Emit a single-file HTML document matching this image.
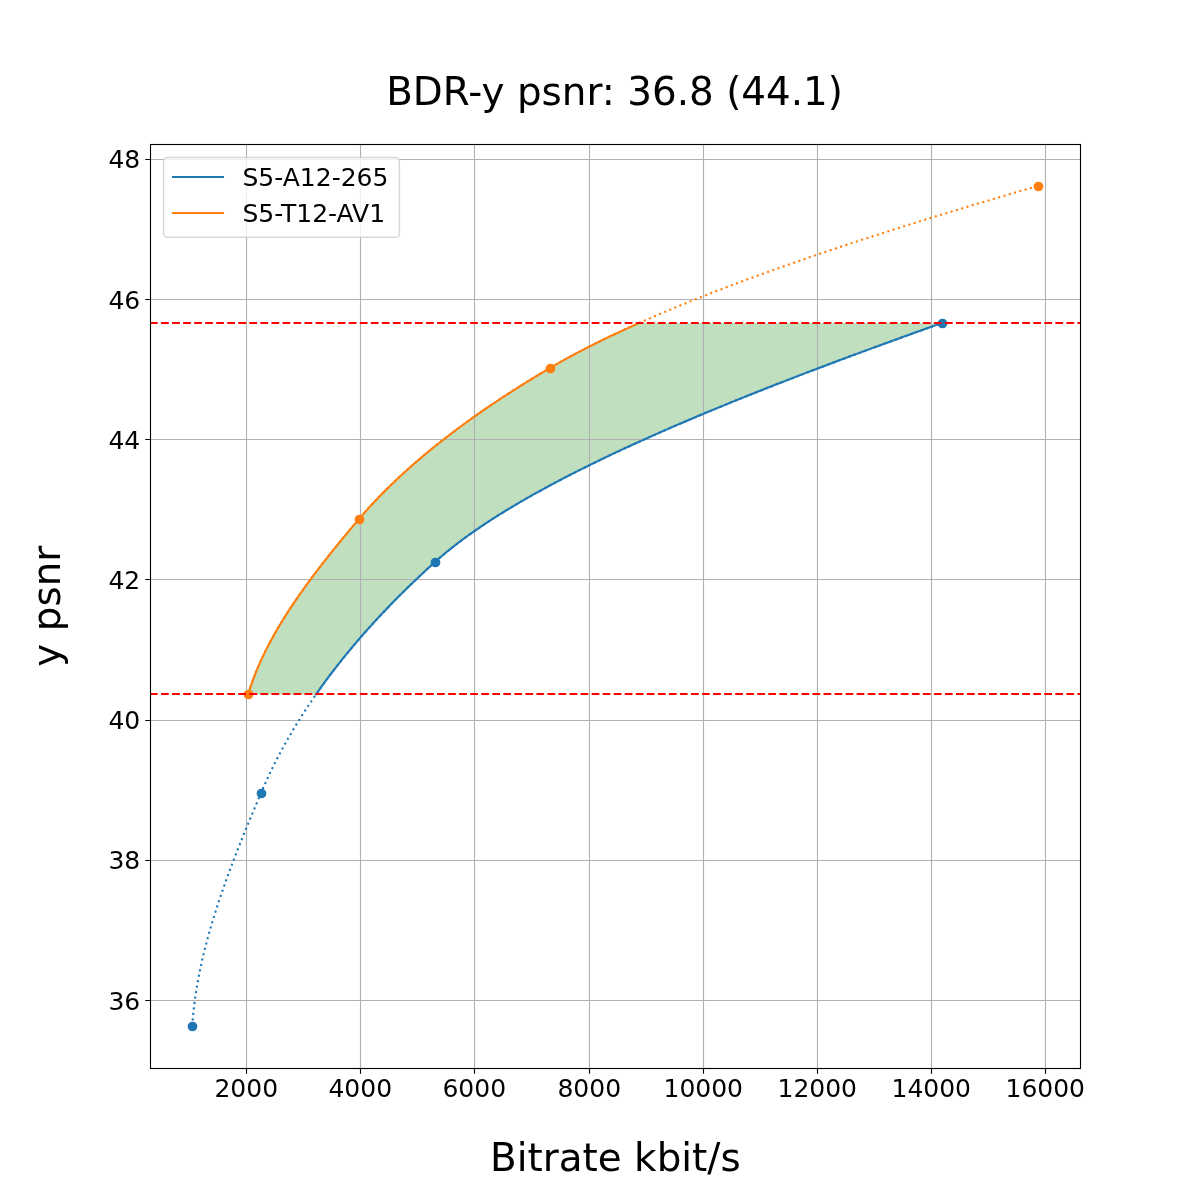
<!DOCTYPE html>
<html lang="en"><head><meta charset="utf-8"><title>BDR-y psnr</title>
<style>html,body{margin:0;padding:0;background:#fff}body{width:1200px;height:1200px;overflow:hidden}svg{display:block}</style>
</head><body>
<svg width="1200" height="1200" viewBox="0 0 1200 1200" font-family="'DejaVu Sans', 'Liberation Sans', sans-serif" fill="#000">
<rect x="0" y="0" width="1200" height="1200" fill="#fff"/>
<path d="M316.04 694.40 L317.34 692.53 L318.66 690.67 L319.98 688.80 L321.32 686.93 L322.67 685.07 L324.02 683.20 L325.39 681.34 L326.77 679.47 L328.16 677.60 L329.56 675.74 L330.96 673.87 L332.38 672.00 L333.81 670.14 L335.25 668.27 L336.70 666.41 L338.16 664.54 L339.63 662.67 L341.11 660.81 L342.61 658.94 L344.11 657.07 L345.62 655.21 L347.14 653.34 L348.68 651.47 L350.22 649.61 L351.78 647.74 L353.34 645.88 L354.92 644.01 L356.51 642.14 L358.10 640.28 L359.71 638.41 L361.33 636.54 L362.96 634.68 L364.60 632.81 L366.26 630.94 L367.92 629.08 L369.59 627.21 L371.27 625.35 L372.97 623.48 L374.68 621.61 L376.39 619.75 L378.12 617.88 L379.86 616.01 L381.61 614.15 L383.37 612.28 L385.14 610.42 L386.92 608.55 L388.72 606.68 L390.52 604.82 L392.34 602.95 L394.16 601.08 L396.00 599.22 L397.85 597.35 L399.71 595.48 L401.58 593.62 L403.46 591.75 L405.36 589.89 L407.26 588.02 L409.18 586.15 L411.11 584.29 L413.04 582.42 L414.99 580.55 L416.96 578.69 L418.93 576.82 L420.91 574.95 L422.91 573.09 L424.92 571.22 L426.93 569.36 L428.96 567.49 L431.00 565.62 L433.06 563.76 L435.12 561.89 L437.21 560.02 L439.34 558.16 L441.51 556.29 L443.72 554.43 L445.96 552.56 L448.24 550.69 L450.56 548.83 L452.92 546.96 L455.31 545.09 L457.74 543.23 L460.20 541.36 L462.71 539.49 L465.25 537.63 L467.82 535.76 L470.43 533.90 L473.08 532.03 L475.76 530.16 L478.48 528.30 L481.23 526.43 L484.01 524.56 L486.83 522.70 L489.69 520.83 L492.58 518.96 L495.50 517.10 L498.45 515.23 L501.44 513.37 L504.46 511.50 L507.52 509.63 L510.61 507.77 L513.73 505.90 L516.88 504.03 L520.06 502.17 L523.28 500.30 L526.53 498.44 L529.81 496.57 L533.12 494.70 L536.46 492.84 L539.83 490.97 L543.23 489.10 L546.67 487.24 L550.13 485.37 L553.62 483.50 L557.15 481.64 L560.70 479.77 L564.28 477.91 L567.89 476.04 L571.53 474.17 L575.20 472.31 L578.89 470.44 L582.62 468.57 L586.37 466.71 L590.15 464.84 L593.95 462.97 L597.79 461.11 L601.65 459.24 L605.54 457.38 L609.45 455.51 L613.40 453.64 L617.36 451.78 L621.36 449.91 L625.38 448.04 L629.42 446.18 L633.49 444.31 L637.59 442.45 L641.71 440.58 L645.85 438.71 L650.02 436.85 L654.21 434.98 L658.43 433.11 L662.67 431.25 L666.94 429.38 L671.23 427.51 L675.54 425.65 L679.87 423.78 L684.23 421.92 L688.61 420.05 L693.01 418.18 L697.43 416.32 L701.88 414.45 L706.35 412.58 L710.84 410.72 L715.35 408.85 L719.88 406.98 L724.43 405.12 L729.00 403.25 L733.59 401.39 L738.21 399.52 L742.84 397.65 L747.49 395.79 L752.17 393.92 L756.86 392.05 L761.57 390.19 L766.30 388.32 L771.04 386.46 L775.81 384.59 L780.59 382.72 L785.40 380.86 L790.22 378.99 L795.05 377.12 L799.91 375.26 L804.78 373.39 L809.67 371.52 L814.58 369.66 L819.50 367.79 L824.44 365.93 L829.39 364.06 L834.36 362.19 L839.35 360.33 L844.35 358.46 L849.36 356.59 L854.39 354.73 L859.44 352.86 L864.50 350.99 L869.58 349.13 L874.66 347.26 L879.77 345.40 L884.88 343.53 L890.01 341.66 L895.16 339.80 L900.31 337.93 L905.48 336.06 L910.66 334.20 L915.85 332.33 L921.06 330.47 L926.28 328.60 L931.51 326.73 L936.75 324.87 L942.00 323.00 L639.12 323.00 L634.95 324.87 L630.81 326.73 L626.71 328.60 L622.66 330.47 L618.64 332.33 L614.66 334.20 L610.73 336.06 L606.84 337.93 L602.98 339.80 L599.17 341.66 L595.41 343.53 L591.68 345.40 L588.00 347.26 L584.36 349.13 L580.76 350.99 L577.20 352.86 L573.69 354.73 L570.23 356.59 L566.80 358.46 L563.42 360.33 L560.09 362.19 L556.80 364.06 L553.55 365.93 L550.35 367.79 L547.19 369.66 L544.05 371.52 L540.92 373.39 L537.82 375.26 L534.74 377.12 L531.68 378.99 L528.64 380.86 L525.63 382.72 L522.63 384.59 L519.65 386.46 L516.69 388.32 L513.76 390.19 L510.84 392.05 L507.95 393.92 L505.08 395.79 L502.22 397.65 L499.39 399.52 L496.58 401.39 L493.78 403.25 L491.01 405.12 L488.26 406.98 L485.53 408.85 L482.82 410.72 L480.13 412.58 L477.46 414.45 L474.80 416.32 L472.17 418.18 L469.56 420.05 L466.97 421.92 L464.40 423.78 L461.85 425.65 L459.32 427.51 L456.81 429.38 L454.32 431.25 L451.85 433.11 L449.40 434.98 L446.96 436.85 L444.55 438.71 L442.16 440.58 L439.79 442.45 L437.44 444.31 L435.10 446.18 L432.79 448.04 L430.49 449.91 L428.22 451.78 L425.96 453.64 L423.73 455.51 L421.51 457.38 L419.31 459.24 L417.14 461.11 L414.98 462.97 L412.84 464.84 L410.72 466.71 L408.62 468.57 L406.54 470.44 L404.47 472.31 L402.43 474.17 L400.41 476.04 L398.40 477.91 L396.42 479.77 L394.45 481.64 L392.50 483.50 L390.57 485.37 L388.66 487.24 L386.77 489.10 L384.89 490.97 L383.04 492.84 L381.20 494.70 L379.39 496.57 L377.59 498.44 L375.81 500.30 L374.05 502.17 L372.31 504.03 L370.58 505.90 L368.88 507.77 L367.19 509.63 L365.52 511.50 L363.87 513.37 L362.24 515.23 L360.63 517.10 L359.03 518.96 L357.45 520.83 L355.87 522.70 L354.29 524.56 L352.72 526.43 L351.15 528.30 L349.59 530.16 L348.03 532.03 L346.48 533.90 L344.93 535.76 L343.39 537.63 L341.85 539.49 L340.32 541.36 L338.79 543.23 L337.27 545.09 L335.76 546.96 L334.25 548.83 L332.75 550.69 L331.25 552.56 L329.76 554.43 L328.28 556.29 L326.80 558.16 L325.34 560.02 L323.87 561.89 L322.42 563.76 L320.97 565.62 L319.54 567.49 L318.10 569.36 L316.68 571.22 L315.27 573.09 L313.86 574.95 L312.46 576.82 L311.07 578.69 L309.69 580.55 L308.32 582.42 L306.96 584.29 L305.61 586.15 L304.26 588.02 L302.93 589.89 L301.60 591.75 L300.29 593.62 L298.98 595.48 L297.69 597.35 L296.40 599.22 L295.13 601.08 L293.87 602.95 L292.61 604.82 L291.37 606.68 L290.14 608.55 L288.92 610.42 L287.71 612.28 L286.52 614.15 L285.33 616.01 L284.16 617.88 L283.00 619.75 L281.85 621.61 L280.71 623.48 L279.59 625.35 L278.48 627.21 L277.38 629.08 L276.30 630.94 L275.22 632.81 L274.16 634.68 L273.12 636.54 L272.09 638.41 L271.07 640.28 L270.06 642.14 L269.07 644.01 L268.10 645.88 L267.14 647.74 L266.19 649.61 L265.25 651.47 L264.34 653.34 L263.43 655.21 L262.55 657.07 L261.67 658.94 L260.82 660.81 L259.97 662.67 L259.15 664.54 L258.34 666.41 L257.54 668.27 L256.77 670.14 L256.00 672.00 L255.26 673.87 L254.53 675.74 L253.82 677.60 L253.13 679.47 L252.45 681.34 L251.79 683.20 L251.15 685.07 L250.52 686.93 L249.91 688.80 L249.32 690.67 L248.75 692.53 L248.20 694.40 Z" fill="#008000" fill-opacity="0.25" stroke="none"/>
<path d="M246.5 144 V1068 M360.5 144 V1068 M474.5 144 V1068 M589.5 144 V1068 M703.5 144 V1068 M817.5 144 V1068 M931.5 144 V1068 M1045.5 144 V1068 M150 1000.5 H1080 M150 860.5 H1080 M150 720.5 H1080 M150 579.5 H1080 M150 439.5 H1080 M150 299.5 H1080 M150 159.5 H1080" stroke="#b0b0b0" stroke-width="1.111" fill="none"/>
<path d="M246.5 1068.5 v5.20 M360.5 1068.5 v5.20 M474.5 1068.5 v5.20 M589.5 1068.5 v5.20 M703.5 1068.5 v5.20 M817.5 1068.5 v5.20 M931.5 1068.5 v5.20 M1045.5 1068.5 v5.20 M150.5 1000.5 h-5.20 M150.5 860.5 h-5.20 M150.5 720.5 h-5.20 M150.5 579.5 h-5.20 M150.5 439.5 h-5.20 M150.5 299.5 h-5.20 M150.5 159.5 h-5.20" stroke="#000" stroke-width="1.111" fill="none"/>
<clipPath id="ax"><rect x="150" y="144" width="930" height="924"/></clipPath>
<g clip-path="url(#ax)" fill="none" stroke-width="2.083">
<path d="M192.27 1026.00 L192.39 1024.24 L192.52 1022.48 L192.65 1020.71 L192.80 1018.95 L192.95 1017.19 L193.11 1015.43 L193.28 1013.67 L193.46 1011.90 L193.65 1010.14 L193.84 1008.38 L194.05 1006.62 L194.26 1004.86 L194.48 1003.10 L194.71 1001.33 L194.94 999.57 L195.19 997.81 L195.44 996.05 L195.70 994.29 L195.96 992.52 L196.24 990.76 L196.52 989.00 L196.81 987.24 L197.11 985.48 L197.41 983.71 L197.72 981.95 L198.04 980.19 L198.37 978.43 L198.70 976.67 L199.04 974.90 L199.39 973.14 L199.75 971.38 L200.11 969.62 L200.48 967.86 L200.85 966.10 L201.24 964.33 L201.63 962.57 L202.02 960.81 L202.42 959.05 L202.83 957.29 L203.25 955.52 L203.67 953.76 L204.10 952.00 L204.53 950.24 L204.97 948.48 L205.42 946.71 L205.87 944.95 L206.33 943.19 L206.79 941.43 L207.26 939.67 L207.74 937.90 L208.22 936.14 L208.71 934.38 L209.20 932.62 L209.70 930.86 L210.20 929.10 L210.71 927.33 L211.23 925.57 L211.75 923.81 L212.28 922.05 L212.81 920.29 L213.34 918.52 L213.89 916.76 L214.43 915.00 L214.98 913.24 L215.54 911.48 L216.10 909.71 L216.67 907.95 L217.24 906.19 L217.81 904.43 L218.39 902.67 L218.98 900.90 L219.57 899.14 L220.16 897.38 L220.76 895.62 L221.36 893.86 L221.97 892.10 L222.58 890.33 L223.19 888.57 L223.81 886.81 L224.43 885.05 L225.06 883.29 L225.69 881.52 L226.32 879.76 L226.96 878.00 L227.60 876.24 L228.25 874.48 L228.90 872.71 L229.55 870.95 L230.21 869.19 L230.87 867.43 L231.53 865.67 L232.20 863.90 L232.86 862.14 L233.54 860.38 L234.21 858.62 L234.89 856.86 L235.57 855.10 L236.26 853.33 L236.94 851.57 L237.63 849.81 L238.33 848.05 L239.02 846.29 L239.72 844.52 L240.42 842.76 L241.12 841.00 L241.83 839.24 L242.54 837.48 L243.25 835.71 L243.96 833.95 L244.67 832.19 L245.39 830.43 L246.11 828.67 L246.83 826.90 L247.55 825.14 L248.28 823.38 L249.00 821.62 L249.73 819.86 L250.46 818.10 L251.19 816.33 L251.92 814.57 L252.66 812.81 L253.39 811.05 L254.13 809.29 L254.87 807.52 L255.61 805.76 L256.35 804.00 L257.09 802.24 L257.84 800.48 L258.58 798.71 L259.33 796.95 L260.07 795.19 L260.82 793.43 L261.57 791.67 L262.33 789.90 L263.09 788.14 L263.87 786.38 L264.65 784.62 L265.44 782.86 L266.24 781.10 L267.04 779.33 L267.86 777.57 L268.68 775.81 L269.51 774.05 L270.35 772.29 L271.20 770.52 L272.06 768.76 L272.92 767.00 L273.80 765.24 L274.68 763.48 L275.57 761.71 L276.47 759.95 L277.37 758.19 L278.29 756.43 L279.21 754.67 L280.15 752.90 L281.09 751.14 L282.04 749.38 L282.99 747.62 L283.96 745.86 L284.94 744.10 L285.92 742.33 L286.91 740.57 L287.91 738.81 L288.92 737.05 L289.94 735.29 L290.97 733.52 L292.00 731.76 L293.05 730.00 L294.10 728.24 L295.16 726.48 L296.23 724.71 L297.31 722.95 L298.40 721.19 L299.50 719.43 L300.60 717.67 L301.72 715.90 L302.84 714.14 L303.97 712.38 L305.11 710.62 L306.26 708.86 L307.42 707.10 L308.59 705.33 L309.77 703.57 L310.95 701.81 L312.15 700.05 L313.35 698.29 L314.56 696.52 L315.78 694.76 L317.02 693.00 L318.26 691.24 L319.50 689.48 L320.76 687.71 L322.03 685.95 L323.30 684.19 L324.59 682.43 L325.88 680.67 L327.19 678.90 L328.50 677.14 L329.82 675.38 L331.15 673.62 L332.49 671.86 L333.84 670.10 L335.20 668.33 L336.57 666.57 L337.95 664.81 L339.34 663.05 L340.73 661.29 L342.14 659.52 L343.55 657.76 L344.98 656.00 L346.41 654.24 L347.85 652.48 L349.31 650.71 L350.77 648.95 L352.24 647.19 L353.72 645.43 L355.21 643.67 L356.71 641.90 L358.22 640.14 L359.74 638.38 L361.27 636.62 L362.81 634.86 L364.35 633.10 L365.91 631.33 L367.48 629.57 L369.05 627.81 L370.64 626.05 L372.24 624.29 L373.84 622.52 L375.46 620.76 L377.08 619.00 L378.72 617.24 L380.36 615.48 L382.02 613.71 L383.68 611.95 L385.35 610.19 L387.04 608.43 L388.73 606.67 L390.43 604.90 L392.15 603.14 L393.87 601.38 L395.60 599.62 L397.35 597.86 L399.10 596.10 L400.86 594.33 L402.64 592.57 L404.42 590.81 L406.21 589.05 L408.01 587.29 L409.83 585.52 L411.65 583.76 L413.48 582.00 L415.33 580.24 L417.18 578.48 L419.04 576.71 L420.92 574.95 L422.80 573.19 L424.69 571.43 L426.60 569.67 L428.51 567.90 L430.43 566.14 L432.37 564.38 L434.31 562.62 L436.27 560.86 L438.27 559.10 L440.29 557.33 L442.36 555.57 L444.45 553.81 L446.58 552.05 L448.74 550.29 L450.94 548.52 L453.17 546.76 L455.43 545.00 L457.72 543.24 L460.05 541.48 L462.41 539.71 L464.80 537.95 L467.23 536.19 L469.68 534.43 L472.17 532.67 L474.69 530.90 L477.24 529.14 L479.82 527.38 L482.43 525.62 L485.08 523.86 L487.75 522.10 L490.45 520.33 L493.19 518.57 L495.95 516.81 L498.75 515.05 L501.57 513.29 L504.42 511.52 L507.31 509.76 L510.22 508.00 L513.16 506.24 L516.13 504.48 L519.13 502.71 L522.16 500.95 L525.21 499.19 L528.29 497.43 L531.40 495.67 L534.54 493.90 L537.71 492.14 L540.90 490.38 L544.12 488.62 L547.37 486.86 L550.64 485.10 L553.95 483.33 L557.27 481.57 L560.63 479.81 L564.01 478.05 L567.41 476.29 L570.84 474.52 L574.30 472.76 L577.78 471.00 L581.29 469.24 L584.82 467.48 L588.38 465.71 L591.96 463.95 L595.56 462.19 L599.19 460.43 L602.85 458.67 L606.52 456.90 L610.23 455.14 L613.95 453.38 L617.70 451.62 L621.47 449.86 L625.27 448.10 L629.08 446.33 L632.92 444.57 L636.78 442.81 L640.67 441.05 L644.57 439.29 L648.50 437.52 L652.45 435.76 L656.42 434.00 L660.42 432.24 L664.43 430.48 L668.47 428.71 L672.52 426.95 L676.60 425.19 L680.69 423.43 L684.81 421.67 L688.95 419.90 L693.10 418.14 L697.28 416.38 L701.48 414.62 L705.69 412.86 L709.93 411.10 L714.18 409.33 L718.45 407.57 L722.74 405.81 L727.05 404.05 L731.38 402.29 L735.72 400.52 L740.09 398.76 L744.47 397.00 L748.86 395.24 L753.28 393.48 L757.71 391.71 L762.16 389.95 L766.63 388.19 L771.11 386.43 L775.61 384.67 L780.13 382.90 L784.66 381.14 L789.21 379.38 L793.77 377.62 L798.35 375.86 L802.94 374.10 L807.55 372.33 L812.17 370.57 L816.81 368.81 L821.47 367.05 L826.13 365.29 L830.82 363.52 L835.51 361.76 L840.22 360.00 L844.94 358.24 L849.68 356.48 L854.43 354.71 L859.19 352.95 L863.97 351.19 L868.76 349.43 L873.56 347.67 L878.37 345.90 L883.20 344.14 L888.04 342.38 L892.89 340.62 L897.75 338.86 L902.62 337.10 L907.51 335.33 L912.40 333.57 L917.31 331.81 L922.23 330.05 L927.16 328.29 L932.09 326.52 L937.04 324.76 L942.00 323.00" stroke="#1f77b4" stroke-dasharray="2.083 3.437"/>
<path d="M248.20 694.40 L248.58 693.13 L248.96 691.85 L249.35 690.58 L249.75 689.30 L250.16 688.03 L250.58 686.75 L251.01 685.48 L251.44 684.21 L251.88 682.93 L252.33 681.66 L252.79 680.38 L253.26 679.11 L253.73 677.84 L254.22 676.56 L254.71 675.29 L255.20 674.01 L255.71 672.74 L256.22 671.46 L256.74 670.19 L257.27 668.92 L257.81 667.64 L258.35 666.37 L258.91 665.09 L259.46 663.82 L260.03 662.55 L260.60 661.27 L261.19 660.00 L261.77 658.72 L262.37 657.45 L262.97 656.17 L263.58 654.90 L264.20 653.63 L264.82 652.35 L265.45 651.08 L266.09 649.80 L266.73 648.53 L267.38 647.26 L268.04 645.98 L268.71 644.71 L269.38 643.43 L270.06 642.16 L270.74 640.88 L271.43 639.61 L272.13 638.34 L272.83 637.06 L273.54 635.79 L274.26 634.51 L274.98 633.24 L275.71 631.96 L276.44 630.69 L277.18 629.42 L277.93 628.14 L278.68 626.87 L279.44 625.59 L280.21 624.32 L280.98 623.05 L281.75 621.77 L282.54 620.50 L283.32 619.22 L284.12 617.95 L284.92 616.67 L285.72 615.40 L286.53 614.13 L287.35 612.85 L288.17 611.58 L288.99 610.30 L289.83 609.03 L290.66 607.76 L291.51 606.48 L292.35 605.21 L293.21 603.93 L294.06 602.66 L294.93 601.38 L295.79 600.11 L296.67 598.84 L297.54 597.56 L298.42 596.29 L299.31 595.01 L300.20 593.74 L301.10 592.47 L302.00 591.19 L302.91 589.92 L303.82 588.64 L304.73 587.37 L305.65 586.09 L306.57 584.82 L307.50 583.55 L308.43 582.27 L309.37 581.00 L310.31 579.72 L311.25 578.45 L312.20 577.17 L313.15 575.90 L314.11 574.63 L315.07 573.35 L316.03 572.08 L317.00 570.80 L317.97 569.53 L318.95 568.26 L319.93 566.98 L320.91 565.71 L321.90 564.43 L322.89 563.16 L323.88 561.88 L324.88 560.61 L325.88 559.34 L326.88 558.06 L327.89 556.79 L328.90 555.51 L329.91 554.24 L330.93 552.97 L331.95 551.69 L332.97 550.42 L333.99 549.14 L335.02 547.87 L336.05 546.59 L337.09 545.32 L338.12 544.05 L339.16 542.77 L340.21 541.50 L341.25 540.22 L342.30 538.95 L343.35 537.68 L344.40 536.40 L345.46 535.13 L346.51 533.85 L347.57 532.58 L348.64 531.30 L349.70 530.03 L350.77 528.76 L351.84 527.48 L352.91 526.21 L353.98 524.93 L355.05 523.66 L356.13 522.38 L357.21 521.11 L358.29 519.84 L359.37 518.56 L360.46 517.29 L361.56 516.01 L362.67 514.74 L363.78 513.47 L364.91 512.19 L366.04 510.92 L367.18 509.64 L368.33 508.37 L369.49 507.09 L370.66 505.82 L371.83 504.55 L373.01 503.27 L374.21 502.00 L375.41 500.72 L376.62 499.45 L377.84 498.18 L379.07 496.90 L380.30 495.63 L381.55 494.35 L382.80 493.08 L384.06 491.80 L385.33 490.53 L386.61 489.26 L387.90 487.98 L389.20 486.71 L390.51 485.43 L391.82 484.16 L393.14 482.89 L394.48 481.61 L395.82 480.34 L397.17 479.06 L398.53 477.79 L399.89 476.51 L401.27 475.24 L402.66 473.97 L404.05 472.69 L405.45 471.42 L406.87 470.14 L408.29 468.87 L409.72 467.59 L411.16 466.32 L412.60 465.05 L414.06 463.77 L415.53 462.50 L417.00 461.22 L418.49 459.95 L419.98 458.68 L421.48 457.40 L422.99 456.13 L424.51 454.85 L426.04 453.58 L427.58 452.30 L429.13 451.03 L430.68 449.76 L432.25 448.48 L433.82 447.21 L435.41 445.93 L437.00 444.66 L438.60 443.39 L440.21 442.11 L441.83 440.84 L443.46 439.56 L445.10 438.29 L446.75 437.01 L448.40 435.74 L450.07 434.47 L451.74 433.19 L453.43 431.92 L455.12 430.64 L456.82 429.37 L458.54 428.10 L460.26 426.82 L461.99 425.55 L463.73 424.27 L465.48 423.00 L467.24 421.72 L469.00 420.45 L470.78 419.18 L472.57 417.90 L474.36 416.63 L476.17 415.35 L477.98 414.08 L479.81 412.81 L481.64 411.53 L483.48 410.26 L485.34 408.98 L487.20 407.71 L489.07 406.43 L490.95 405.16 L492.84 403.89 L494.74 402.61 L496.65 401.34 L498.57 400.06 L500.50 398.79 L502.43 397.51 L504.38 396.24 L506.34 394.97 L508.30 393.69 L510.28 392.42 L512.26 391.14 L514.26 389.87 L516.26 388.60 L518.28 387.32 L520.30 386.05 L522.33 384.77 L524.38 383.50 L526.43 382.22 L528.49 380.95 L530.56 379.68 L532.64 378.40 L534.74 377.13 L536.84 375.85 L538.95 374.58 L541.07 373.31 L543.20 372.03 L545.34 370.76 L547.49 369.48 L549.65 368.21 L551.82 366.93 L554.01 365.66 L556.23 364.39 L558.46 363.11 L560.72 361.84 L563.00 360.56 L565.30 359.29 L567.62 358.02 L569.95 356.74 L572.31 355.47 L574.70 354.19 L577.10 352.92 L579.52 351.64 L581.96 350.37 L584.42 349.10 L586.90 347.82 L589.40 346.55 L591.92 345.27 L594.46 344.00 L597.03 342.72 L599.61 341.45 L602.21 340.18 L604.83 338.90 L607.46 337.63 L610.12 336.35 L612.80 335.08 L615.50 333.81 L618.21 332.53 L620.95 331.26 L623.70 329.98 L626.47 328.71 L629.26 327.43 L632.07 326.16 L634.90 324.89 L637.75 323.61 L640.62 322.34 L643.50 321.06 L646.40 319.79 L649.32 318.52 L652.26 317.24 L655.22 315.97 L658.19 314.69 L661.19 313.42 L664.20 312.14 L667.22 310.87 L670.27 309.60 L673.33 308.32 L676.42 307.05 L679.51 305.77 L682.63 304.50 L685.76 303.23 L688.92 301.95 L692.08 300.68 L695.27 299.40 L698.47 298.13 L701.69 296.85 L704.92 295.58 L708.18 294.31 L711.45 293.03 L714.73 291.76 L718.03 290.48 L721.35 289.21 L724.69 287.93 L728.04 286.66 L731.41 285.39 L734.79 284.11 L738.19 282.84 L741.61 281.56 L745.04 280.29 L748.49 279.02 L751.95 277.74 L755.43 276.47 L758.93 275.19 L762.44 273.92 L765.96 272.64 L769.50 271.37 L773.06 270.10 L776.63 268.82 L780.22 267.55 L783.82 266.27 L787.44 265.00 L791.07 263.73 L794.71 262.45 L798.38 261.18 L802.05 259.90 L805.74 258.63 L809.45 257.35 L813.17 256.08 L816.90 254.81 L820.65 253.53 L824.41 252.26 L828.19 250.98 L831.98 249.71 L835.78 248.44 L839.60 247.16 L843.44 245.89 L847.28 244.61 L851.14 243.34 L855.02 242.06 L858.90 240.79 L862.80 239.52 L866.72 238.24 L870.64 236.97 L874.58 235.69 L878.54 234.42 L882.50 233.14 L886.48 231.87 L890.48 230.60 L894.48 229.32 L898.50 228.05 L902.53 226.77 L906.57 225.50 L910.63 224.23 L914.70 222.95 L918.78 221.68 L922.87 220.40 L926.97 219.13 L931.09 217.85 L935.22 216.58 L939.36 215.31 L943.51 214.03 L947.68 212.76 L951.86 211.48 L956.04 210.21 L960.24 208.94 L964.45 207.66 L968.68 206.39 L972.91 205.11 L977.16 203.84 L981.41 202.56 L985.68 201.29 L989.96 200.02 L994.25 198.74 L998.55 197.47 L1002.86 196.19 L1007.18 194.92 L1011.51 193.65 L1015.86 192.37 L1020.21 191.10 L1024.58 189.82 L1028.95 188.55 L1033.34 187.27 L1037.73 186.00" stroke="#ff7f0e" stroke-dasharray="2.083 3.437" stroke-dashoffset="-1.1"/>
<path d="M316.04 694.40 L317.34 692.53 L318.66 690.67 L319.98 688.80 L321.32 686.93 L322.67 685.07 L324.02 683.20 L325.39 681.34 L326.77 679.47 L328.16 677.60 L329.56 675.74 L330.96 673.87 L332.38 672.00 L333.81 670.14 L335.25 668.27 L336.70 666.41 L338.16 664.54 L339.63 662.67 L341.11 660.81 L342.61 658.94 L344.11 657.07 L345.62 655.21 L347.14 653.34 L348.68 651.47 L350.22 649.61 L351.78 647.74 L353.34 645.88 L354.92 644.01 L356.51 642.14 L358.10 640.28 L359.71 638.41 L361.33 636.54 L362.96 634.68 L364.60 632.81 L366.26 630.94 L367.92 629.08 L369.59 627.21 L371.27 625.35 L372.97 623.48 L374.68 621.61 L376.39 619.75 L378.12 617.88 L379.86 616.01 L381.61 614.15 L383.37 612.28 L385.14 610.42 L386.92 608.55 L388.72 606.68 L390.52 604.82 L392.34 602.95 L394.16 601.08 L396.00 599.22 L397.85 597.35 L399.71 595.48 L401.58 593.62 L403.46 591.75 L405.36 589.89 L407.26 588.02 L409.18 586.15 L411.11 584.29 L413.04 582.42 L414.99 580.55 L416.96 578.69 L418.93 576.82 L420.91 574.95 L422.91 573.09 L424.92 571.22 L426.93 569.36 L428.96 567.49 L431.00 565.62 L433.06 563.76 L435.12 561.89 L437.21 560.02 L439.34 558.16 L441.51 556.29 L443.72 554.43 L445.96 552.56 L448.24 550.69 L450.56 548.83 L452.92 546.96 L455.31 545.09 L457.74 543.23 L460.20 541.36 L462.71 539.49 L465.25 537.63 L467.82 535.76 L470.43 533.90 L473.08 532.03 L475.76 530.16 L478.48 528.30 L481.23 526.43 L484.01 524.56 L486.83 522.70 L489.69 520.83 L492.58 518.96 L495.50 517.10 L498.45 515.23 L501.44 513.37 L504.46 511.50 L507.52 509.63 L510.61 507.77 L513.73 505.90 L516.88 504.03 L520.06 502.17 L523.28 500.30 L526.53 498.44 L529.81 496.57 L533.12 494.70 L536.46 492.84 L539.83 490.97 L543.23 489.10 L546.67 487.24 L550.13 485.37 L553.62 483.50 L557.15 481.64 L560.70 479.77 L564.28 477.91 L567.89 476.04 L571.53 474.17 L575.20 472.31 L578.89 470.44 L582.62 468.57 L586.37 466.71 L590.15 464.84 L593.95 462.97 L597.79 461.11 L601.65 459.24 L605.54 457.38 L609.45 455.51 L613.40 453.64 L617.36 451.78 L621.36 449.91 L625.38 448.04 L629.42 446.18 L633.49 444.31 L637.59 442.45 L641.71 440.58 L645.85 438.71 L650.02 436.85 L654.21 434.98 L658.43 433.11 L662.67 431.25 L666.94 429.38 L671.23 427.51 L675.54 425.65 L679.87 423.78 L684.23 421.92 L688.61 420.05 L693.01 418.18 L697.43 416.32 L701.88 414.45 L706.35 412.58 L710.84 410.72 L715.35 408.85 L719.88 406.98 L724.43 405.12 L729.00 403.25 L733.59 401.39 L738.21 399.52 L742.84 397.65 L747.49 395.79 L752.17 393.92 L756.86 392.05 L761.57 390.19 L766.30 388.32 L771.04 386.46 L775.81 384.59 L780.59 382.72 L785.40 380.86 L790.22 378.99 L795.05 377.12 L799.91 375.26 L804.78 373.39 L809.67 371.52 L814.58 369.66 L819.50 367.79 L824.44 365.93 L829.39 364.06 L834.36 362.19 L839.35 360.33 L844.35 358.46 L849.36 356.59 L854.39 354.73 L859.44 352.86 L864.50 350.99 L869.58 349.13 L874.66 347.26 L879.77 345.40 L884.88 343.53 L890.01 341.66 L895.16 339.80 L900.31 337.93 L905.48 336.06 L910.66 334.20 L915.85 332.33 L921.06 330.47 L926.28 328.60 L931.51 326.73 L936.75 324.87 L942.00 323.00" stroke="#1f77b4" stroke-linecap="square" stroke-linejoin="round"/>
<path d="M248.20 694.40 L248.75 692.53 L249.32 690.67 L249.91 688.80 L250.52 686.93 L251.15 685.07 L251.79 683.20 L252.45 681.34 L253.13 679.47 L253.82 677.60 L254.53 675.74 L255.26 673.87 L256.00 672.00 L256.77 670.14 L257.54 668.27 L258.34 666.41 L259.15 664.54 L259.97 662.67 L260.82 660.81 L261.67 658.94 L262.55 657.07 L263.43 655.21 L264.34 653.34 L265.25 651.47 L266.19 649.61 L267.14 647.74 L268.10 645.88 L269.07 644.01 L270.06 642.14 L271.07 640.28 L272.09 638.41 L273.12 636.54 L274.16 634.68 L275.22 632.81 L276.30 630.94 L277.38 629.08 L278.48 627.21 L279.59 625.35 L280.71 623.48 L281.85 621.61 L283.00 619.75 L284.16 617.88 L285.33 616.01 L286.52 614.15 L287.71 612.28 L288.92 610.42 L290.14 608.55 L291.37 606.68 L292.61 604.82 L293.87 602.95 L295.13 601.08 L296.40 599.22 L297.69 597.35 L298.98 595.48 L300.29 593.62 L301.60 591.75 L302.93 589.89 L304.26 588.02 L305.61 586.15 L306.96 584.29 L308.32 582.42 L309.69 580.55 L311.07 578.69 L312.46 576.82 L313.86 574.95 L315.27 573.09 L316.68 571.22 L318.10 569.36 L319.54 567.49 L320.97 565.62 L322.42 563.76 L323.87 561.89 L325.34 560.02 L326.80 558.16 L328.28 556.29 L329.76 554.43 L331.25 552.56 L332.75 550.69 L334.25 548.83 L335.76 546.96 L337.27 545.09 L338.79 543.23 L340.32 541.36 L341.85 539.49 L343.39 537.63 L344.93 535.76 L346.48 533.90 L348.03 532.03 L349.59 530.16 L351.15 528.30 L352.72 526.43 L354.29 524.56 L355.87 522.70 L357.45 520.83 L359.03 518.96 L360.63 517.10 L362.24 515.23 L363.87 513.37 L365.52 511.50 L367.19 509.63 L368.88 507.77 L370.58 505.90 L372.31 504.03 L374.05 502.17 L375.81 500.30 L377.59 498.44 L379.39 496.57 L381.20 494.70 L383.04 492.84 L384.89 490.97 L386.77 489.10 L388.66 487.24 L390.57 485.37 L392.50 483.50 L394.45 481.64 L396.42 479.77 L398.40 477.91 L400.41 476.04 L402.43 474.17 L404.47 472.31 L406.54 470.44 L408.62 468.57 L410.72 466.71 L412.84 464.84 L414.98 462.97 L417.14 461.11 L419.31 459.24 L421.51 457.38 L423.73 455.51 L425.96 453.64 L428.22 451.78 L430.49 449.91 L432.79 448.04 L435.10 446.18 L437.44 444.31 L439.79 442.45 L442.16 440.58 L444.55 438.71 L446.96 436.85 L449.40 434.98 L451.85 433.11 L454.32 431.25 L456.81 429.38 L459.32 427.51 L461.85 425.65 L464.40 423.78 L466.97 421.92 L469.56 420.05 L472.17 418.18 L474.80 416.32 L477.46 414.45 L480.13 412.58 L482.82 410.72 L485.53 408.85 L488.26 406.98 L491.01 405.12 L493.78 403.25 L496.58 401.39 L499.39 399.52 L502.22 397.65 L505.08 395.79 L507.95 393.92 L510.84 392.05 L513.76 390.19 L516.69 388.32 L519.65 386.46 L522.63 384.59 L525.63 382.72 L528.64 380.86 L531.68 378.99 L534.74 377.12 L537.82 375.26 L540.92 373.39 L544.05 371.52 L547.19 369.66 L550.35 367.79 L553.55 365.93 L556.80 364.06 L560.09 362.19 L563.42 360.33 L566.80 358.46 L570.23 356.59 L573.69 354.73 L577.20 352.86 L580.76 350.99 L584.36 349.13 L588.00 347.26 L591.68 345.40 L595.41 343.53 L599.17 341.66 L602.98 339.80 L606.84 337.93 L610.73 336.06 L614.66 334.20 L618.64 332.33 L622.66 330.47 L626.71 328.60 L630.81 326.73 L634.95 324.87 L639.12 323.00" stroke="#ff7f0e" stroke-linecap="square" stroke-linejoin="round"/>
</g>
<circle cx="192.50" cy="1026.50" r="4.167" fill="#1f77b4" stroke="#1f77b4" stroke-width="1.389"/>
<circle cx="261.50" cy="793.50" r="4.167" fill="#1f77b4" stroke="#1f77b4" stroke-width="1.389"/>
<circle cx="435.50" cy="562.50" r="4.167" fill="#1f77b4" stroke="#1f77b4" stroke-width="1.389"/>
<circle cx="942.50" cy="323.50" r="4.167" fill="#1f77b4" stroke="#1f77b4" stroke-width="1.389"/>
<circle cx="248.50" cy="694.50" r="4.167" fill="#ff7f0e" stroke="#ff7f0e" stroke-width="1.389"/>
<circle cx="359.50" cy="519.50" r="4.167" fill="#ff7f0e" stroke="#ff7f0e" stroke-width="1.389"/>
<circle cx="550.50" cy="368.50" r="4.167" fill="#ff7f0e" stroke="#ff7f0e" stroke-width="1.389"/>
<circle cx="1038.50" cy="186.50" r="4.167" fill="#ff7f0e" stroke="#ff7f0e" stroke-width="1.389"/>
<path d="M150 694 H1080" stroke="#ff0000" stroke-width="2.083" stroke-dasharray="7.708 3.333" fill="none"/>
<path d="M150 323 H1080" stroke="#ff0000" stroke-width="2.083" stroke-dasharray="7.708 3.333" fill="none"/>
<rect x="150.5" y="144.5" width="930" height="924" fill="none" stroke="#000" stroke-width="1.111"/>
<g font-size="25.000px" text-anchor="middle">
<text x="246.25" y="1096.70">2000</text>
<text x="360.25" y="1096.70">4000</text>
<text x="474.25" y="1096.70">6000</text>
<text x="589.25" y="1096.70">8000</text>
<text x="703.25" y="1096.70">10000</text>
<text x="817.25" y="1096.70">12000</text>
<text x="931.25" y="1096.70">14000</text>
<text x="1045.25" y="1096.70">16000</text>
</g>
<g font-size="25.000px" text-anchor="end">
<text x="140.2" y="1010">36</text>
<text x="140.2" y="869">38</text>
<text x="140.2" y="729">40</text>
<text x="140.2" y="589">42</text>
<text x="140.2" y="449">44</text>
<text x="140.2" y="309">46</text>
<text x="140.2" y="168">48</text>
</g>
<text x="614.6" y="105" font-size="38.889px" text-anchor="middle">BDR-y psnr: 36.8 (44.1)</text>
<text x="615.4" y="1171" font-size="38.889px" text-anchor="middle">Bitrate kbit/s</text>
<text transform="translate(60.4 606.2) rotate(-90)" font-size="38.889px" text-anchor="middle">y psnr</text>
<rect x="163.6" y="157.5" width="235.8" height="79.8" rx="3.6" ry="3.6" fill="#fff" fill-opacity="0.8" stroke="#cccccc" stroke-opacity="0.8" stroke-width="1.389"/>
<path d="M173 177 H223" stroke="#1f77b4" stroke-width="2.083" stroke-linecap="square"/>
<path d="M173 213 H223" stroke="#ff7f0e" stroke-width="2.083" stroke-linecap="square"/>
<g font-size="25.000px">
<text x="242.5" y="186">S5-A12-265</text>
<text x="242.5" y="222">S5-T12-AV1</text>
</g>
</svg>
</body></html>
